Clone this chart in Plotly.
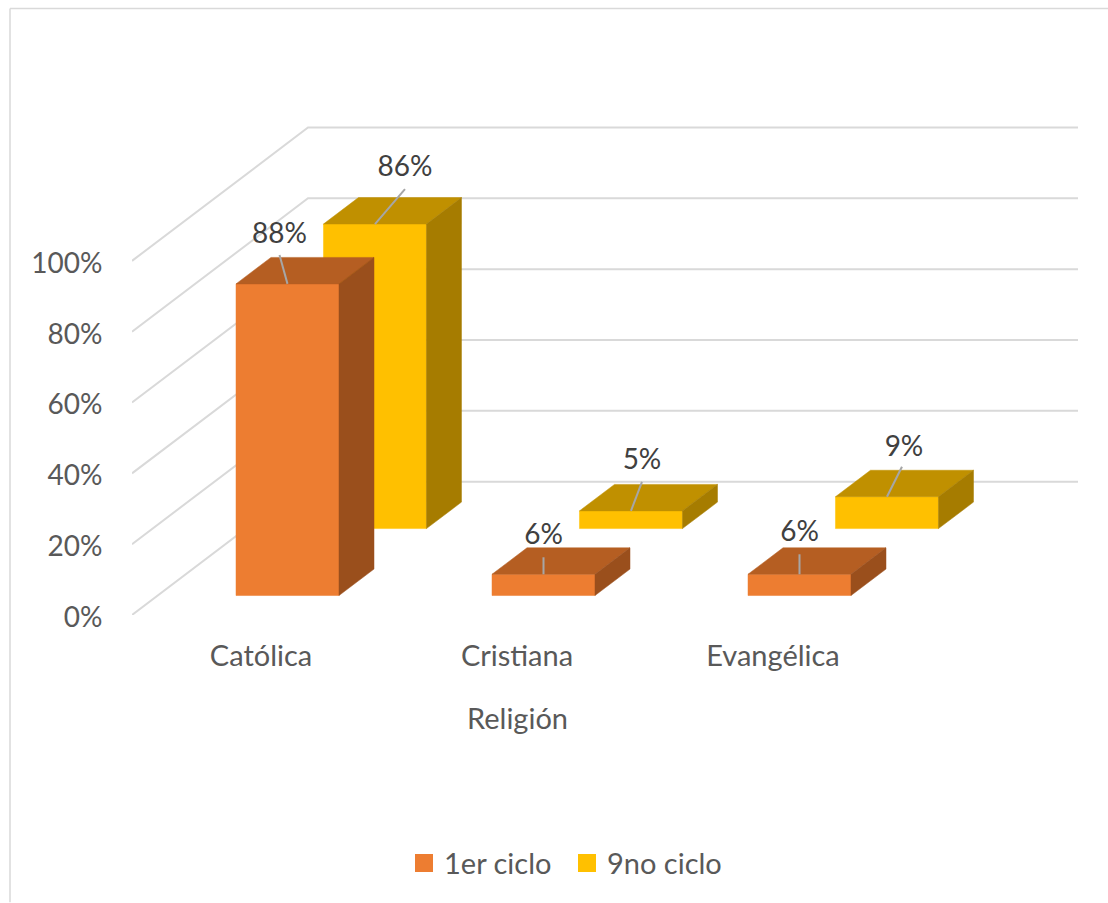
import plotly.graph_objects as go

# ---- data ----
categories = ["Católica", "Cristiana", "Evangélica"]
primer_ciclo = [88, 6, 6]
noveno_ciclo = [86, 5, 9]
y_ticks = [0, 20, 40, 60, 80, 100]
series_names = ["1er ciclo", "9no ciclo"]
axis_title = "Religión"

# ---- geometry of the oblique projection (in axis units) ----
W, H = 1108, 903
PX_Y = 3.545            # pixels per percentage point
ZERO_Y = 615.5          # pixel row of 0 %
PX_X = 256.0            # pixels per category
CAT0_X = 261.0          # pixel column of first category
LEFT, RIGHT, TOP = 132.0, 1078.0, 120.0
WALL_DX, WALL_DY = 176 / PX_X, 133.5 / PX_Y
BAR_W = 103 / PX_X
DEPTH_X, DEPTH_Y = 35 / PX_X, 26.5 / PX_Y
SERIES_STYLE = [
    dict(off=0.1035 - BAR_W / 2, base=5.5, front="#ED7D31", top="#B55E22", side="#9A4F1C"),
    dict(off=0.4452 - BAR_W / 2, base=24.4, front="#FFC000", top="#C09000", side="#A67C00"),
]
# offset of each data label, and leader-line tip, from the bar's top-front centre (px)
LABEL_OFF = [[(-8, -48), (0, -37), (0, -40)], [(30, -55), (11, -49), (17, -48)]]
LEADER_OFF = [[(-8, -29), (0, -17), (0, -20)], [(30, -35), (11, -29), (15, -30)]]
TEXT = "#595959"
LABEL = "#404040"
GRID = "#D9D9D9"
FONT = "Lato"
SIZE_PCT = 28
SIZE_CAT = 29

fig = go.Figure()


def poly(xs, ys, color):
    fig.add_trace(go.Scatter(x=xs, y=ys, mode="lines", fill="toself", fillcolor=color,
                             line=dict(color=color, width=0.5), showlegend=False,
                             hoverinfo="skip", cliponaxis=False))


x_min = (LEFT - CAT0_X) / PX_X
x_max = (RIGHT - CAT0_X) / PX_X

# walls
for t in y_ticks:
    fig.add_trace(go.Scatter(
        x=[x_min, x_min + WALL_DX, x_max], y=[t, t + WALL_DY, t + WALL_DY],
        mode="lines", line=dict(color=GRID, width=2), showlegend=False,
        hoverinfo="skip", cliponaxis=False))

all_values = [primer_ciclo, noveno_ciclo]


def bar(i, s):
    st = SERIES_STYLE[s]
    v = all_values[s][i]
    x0 = i + st["off"]
    x1 = x0 + BAR_W
    b = st["base"]
    t = b + v
    poly([x0, x1, x1, x0, x0], [b, b, t, t, b], st["front"])
    poly([x0, x1, x1 + DEPTH_X, x0 + DEPTH_X, x0], [t, t, t + DEPTH_Y, t + DEPTH_Y, t], st["top"])
    poly([x1, x1 + DEPTH_X, x1 + DEPTH_X, x1, x1], [b, b + DEPTH_Y, t + DEPTH_Y, t, b], st["side"])


for i in range(len(categories)):
    bar(i, 1)
    bar(i, 0)

# leader lines and data labels
for s, vals in enumerate(all_values):
    st = SERIES_STYLE[s]
    for i, v in enumerate(vals):
        cx = i + st["off"] + BAR_W / 2
        ty = st["base"] + v
        lx, ly = LEADER_OFF[s][i]
        fig.add_trace(go.Scatter(x=[cx, cx + lx / PX_X], y=[ty, ty - ly / PX_Y], mode="lines",
                                 line=dict(color="#A6A6A6", width=2), showlegend=False,
                                 hoverinfo="skip", cliponaxis=False))
        tx, tyo = LABEL_OFF[s][i]
        fig.add_trace(go.Scatter(x=[cx + tx / PX_X], y=[ty - tyo / PX_Y], mode="text",
                                 text=[f"{v}%"], textposition="middle center",
                                 textfont=dict(family=FONT, size=SIZE_PCT, color=LABEL),
                                 showlegend=False, hoverinfo="skip", cliponaxis=False))

# legend entries
for s, name in enumerate(series_names):
    c = SERIES_STYLE[s]["front"]
    fig.add_trace(go.Scatter(x=[None], y=[None], mode="markers", name=name,
                             marker=dict(symbol="square", size=16, color=c,
                                         line=dict(color=c, width=2))))

m_b = H - ZERO_Y
plot_h = H - TOP - m_b
fig.add_annotation(x=1, y=(H - 718 - m_b) / plot_h, xref="x", yref="paper", text=axis_title,
                   yanchor="middle", showarrow=False,
                   font=dict(family=FONT, size=SIZE_CAT, color=TEXT))

fig.update_layout(
    width=W, height=H,
    margin=dict(l=LEFT, r=W - RIGHT, t=TOP, b=m_b, autoexpand=False, pad=0),
    paper_bgcolor="white", plot_bgcolor="rgba(0,0,0,0)",
    font=dict(family=FONT, size=SIZE_PCT, color=TEXT),
    xaxis=dict(range=[x_min, x_max], tickvals=list(range(len(categories))), ticktext=categories,
               showgrid=False, zeroline=False, showline=False, ticks="outside", ticklen=15,
               tickcolor="rgba(0,0,0,0)", fixedrange=True,
               tickfont=dict(family=FONT, size=SIZE_CAT, color=TEXT)),
    yaxis=dict(range=[0, (ZERO_Y - TOP) / PX_Y], tickvals=y_ticks,
               ticktext=[f"{t}%" for t in y_ticks], showgrid=False, zeroline=False,
               showline=False, ticks="outside", ticklen=23, tickcolor="rgba(0,0,0,0)",
               ticklabelshift=2, fixedrange=True,
               tickfont=dict(family=FONT, size=SIZE_PCT, color=TEXT)),
    legend=dict(orientation="h", x=(404 - LEFT) / (RIGHT - LEFT),
                y=(H - 864 - m_b) / plot_h, xanchor="left", yanchor="middle",
                entrywidth=118, entrywidthmode="pixels", bgcolor="rgba(0,0,0,0)",
                font=dict(family=FONT, size=SIZE_CAT, color=TEXT), itemclick=False, itemdoubleclick=False),
    shapes=[
        dict(type="line", xref="paper", yref="paper",
             x0=(10 - LEFT) / (RIGHT - LEFT), x1=(W - LEFT) / (RIGHT - LEFT),
             y0=(H - 8.5 - m_b) / plot_h, y1=(H - 8.5 - m_b) / plot_h,
             line=dict(color=GRID, width=1.5)),
        dict(type="line", xref="paper", yref="paper",
             x0=(10 - LEFT) / (RIGHT - LEFT), x1=(10 - LEFT) / (RIGHT - LEFT),
             y0=(0 - m_b) / plot_h, y1=(H - 8.5 - m_b) / plot_h,
             line=dict(color=GRID, width=1.5)),
    ],
)
fig.write_html("out.html", config=dict(displayModeBar=False),
               post_script="document.body.style.margin='0';document.body.style.overflow='hidden';"
                           "document.body.style.fontVariantLigatures='none';")
